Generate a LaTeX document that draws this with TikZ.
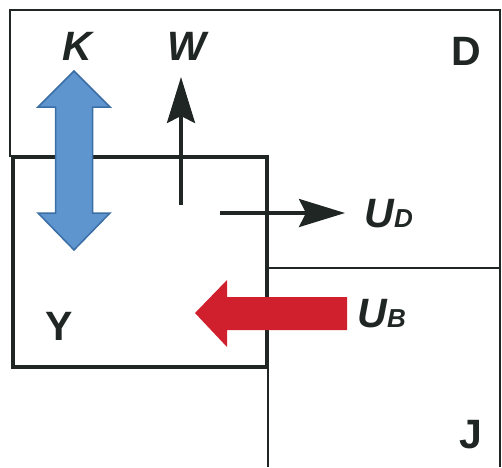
\documentclass[tikz,border=0pt]{standalone}
\usepackage{fontspec}
\setmainfont{Liberation Sans}
\usetikzlibrary{arrows.meta}
\definecolor{kblue}{HTML}{5E95CF}
\definecolor{kedge}{HTML}{3A6EA5}
\definecolor{ured}{HTML}{D0202E}
\definecolor{ink}{HTML}{1F2623}
\begin{document}
\begin{tikzpicture}[x=1pt, y=-1pt,
    frame/.style={line width=2pt, ink},
    ybox/.style={line width=4.5pt, ink},
    flow/.style={line width=3.5pt, ink, -{Stealth[length=46pt, width=28pt, inset=7pt]}},
    lbl/.style={anchor=base, text=ink, font=\fontsize{41}{48}\selectfont\bfseries},
    ilbl/.style={lbl, font=\fontsize{41}{48}\selectfont\bfseries\itshape}]
    \useasboundingbox (0,0) rectangle (502,467);

    % frame of D and J
    \draw[frame] (10,157) -- (10,10) -- (500,10) -- (500,467);
    \draw[frame] (268,467) -- (268,268) -- (500,268);

    % box Y
    \draw[ybox] (13,157) rectangle (267,367);

    % K, both ways
    \filldraw[fill=kblue, draw=kedge, line width=1.5pt]
        (74,71) -- (110,107) -- (92.5,107) -- (92.5,213) -- (110,213)
        -- (74,250) -- (38,213) -- (55.5,213) -- (55.5,107) -- (38,107) -- cycle;

    % U_B, into Y
    \fill[ured] (347,297) -- (227,297) -- (227,280) -- (195,313)
        -- (227,347) -- (227,330) -- (347,330) -- cycle;

    % W and U_D
    \coordinate (w-from) at (181,205);
    \coordinate (w-to) at (181,77);
    \coordinate (ud-from) at (220,213);
    \coordinate (ud-to) at (345,213);
    \draw[flow] (w-from) -- (w-to);
    \draw[flow] (ud-from) -- (ud-to);

    \node[ilbl] (k) at (77,60) {K};
    \node[ilbl] (w) at (187,60) {W};
    \node[lbl] (d) at (466,65) {D};
    \node[lbl] (y) at (59,340) {Y};
    \node[lbl] (j) at (471,448) {J};
    \node[ilbl, anchor=base west] (ud) at (361,227) {U{\fontsize{26}{30}\selectfont D}};
    \node[ilbl, anchor=base west] (ub) at (354,327) {U{\fontsize{26}{30}\selectfont B}};

\end{tikzpicture}
\end{document}
